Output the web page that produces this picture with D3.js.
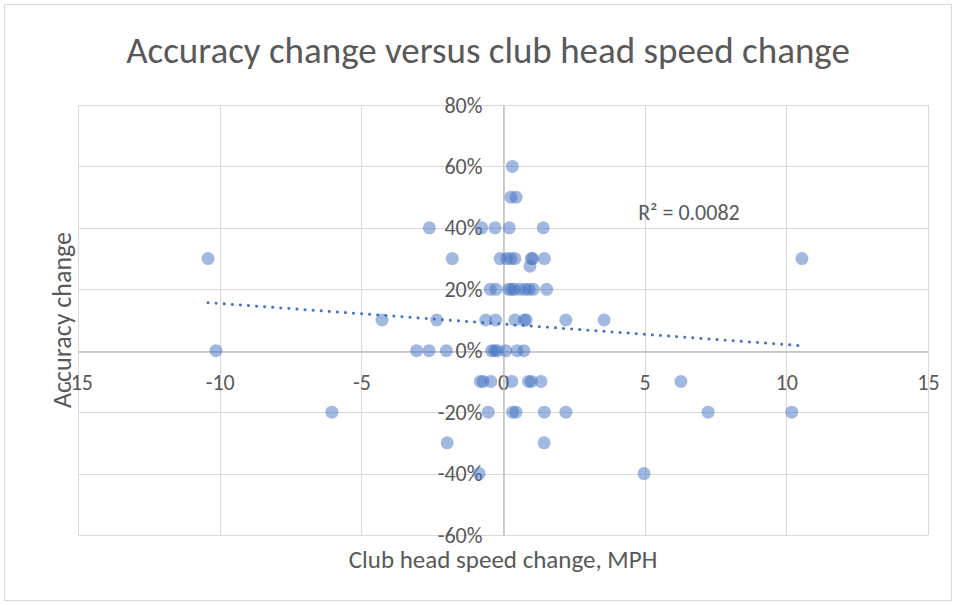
<!DOCTYPE html>
<html>
<head>
<meta charset="utf-8">
<script src="https://cdn.jsdelivr.net/npm/d3@7"></script>
<style>
  html, body { margin: 0; padding: 0; background: #fff; }
  svg { display: block; }
  text { font-family: Carlito, Lato, "Open Sans", sans-serif; fill: #595959; }
</style>
</head>
<body>
<svg id="chart" width="956" height="605"></svg>
<script>
// ---- Data ----
const speedChange = [
  0.33,
  0.28, 0.46,
  -2.6, -0.75, -0.28, 0.22, 1.42,
  -10.41, -1.79, -0.1, 0.13, 0.28, 0.42, 1.0, 1.05, 1.46, 10.55,
  0.95,
  -0.45, -0.25, 0.2, 0.3, 0.4, 0.6, 0.78, 0.92, 1.07, 1.54,
  -4.27, -2.34, -0.61, -0.26, 0.42, 0.75, 0.82, 2.22, 3.57,
  -10.13, -3.05, -2.61, -2.0, -0.4, -0.3, -0.2, 0.1, 0.5, 0.74,
  -0.8, -0.7, -0.43, 0.31, 0.9, 1.0, 1.34, 6.28,
  -6.04, -0.52, 0.34, 0.46, 1.46, 2.22, 7.24, 10.19,
  -1.97, 1.45,
  -0.84, 4.98
];
const accuracyChange = [
  0.6,
  0.5, 0.5,
  0.4, 0.4, 0.4, 0.4, 0.4,
  0.3, 0.3, 0.3, 0.3, 0.3, 0.3, 0.3, 0.3, 0.3, 0.3,
  0.275,
  0.2, 0.2, 0.2, 0.2, 0.2, 0.2, 0.2, 0.2, 0.2, 0.2,
  0.1, 0.1, 0.1, 0.1, 0.1, 0.1, 0.1, 0.1, 0.1,
  0, 0, 0, 0, 0, 0, 0, 0, 0, 0,
  -0.1, -0.1, -0.1, -0.1, -0.1, -0.1, -0.1, -0.1,
  -0.2, -0.2, -0.2, -0.2, -0.2, -0.2, -0.2, -0.2,
  -0.3, -0.3,
  -0.4, -0.4
];
const trendX = [-10.41, 10.55];
const trendY = [0.1565, 0.0163];
const xTicks = [-15, -10, -5, 0, 5, 10, 15];
const yTicks = [-0.6, -0.4, -0.2, 0, 0.2, 0.4, 0.6, 0.8];
const titleText = "Accuracy change versus club head speed change";
const xTitle = "Club head speed change, MPH";
const yTitle = "Accuracy change";
const r2Text = "R² = 0.0082";
const r2Pos = [4.77, 0.452];

// ---- Drawing ----
const FONT = "Carlito, Lato, 'Open Sans', sans-serif";
const locale = d3.formatLocale({ decimal: ".", thousands: ",", grouping: [3], currency: ["$", ""], minus: "-" });
const svg = d3.select("#chart");
const W = 956, H = 605;

svg.append("rect")
  .attr("x", 4.5).attr("y", 4.5).attr("width", W - 9).attr("height", H - 9)
  .attr("fill", "#fff").attr("stroke", "#d9d9d9").attr("stroke-width", 1);

const x = d3.scaleLinear().domain([-15, 15]).range([78, 928]);
const y = d3.scaleLinear().domain([-0.6, 0.8]).range([535, 105]);

// gridlines
const grid = svg.append("g");
grid.selectAll("line.v").data(xTicks).join("line")
  .attr("x1", d => Math.round(x(d)) + 0.5).attr("x2", d => Math.round(x(d)) + 0.5)
  .attr("y1", y(0.8)).attr("y2", y(-0.6))
  .attr("stroke", "#d9d9d9").attr("stroke-width", 1);
grid.selectAll("line.h").data(yTicks).join("line")
  .attr("y1", d => Math.round(y(d)) + 0.5).attr("y2", d => Math.round(y(d)) + 0.5)
  .attr("x1", x(-15)).attr("x2", x(15))
  .attr("stroke", "#d9d9d9").attr("stroke-width", 1);

// zero axes via d3 axes (no ticks), styled gray
const xAxis = d3.axisBottom(x).tickValues(xTicks).tickSize(0).tickPadding(23)
  .tickFormat(locale.format("d"));
const gx = svg.append("g").attr("transform", `translate(0,${Math.round(y(0)) + 0.5})`).call(xAxis);
gx.select(".domain").attr("stroke", "#bfbfbf").attr("stroke-width", 1.5);
gx.selectAll("text").style("font-size", "22px").attr("fill", "#595959")
  .style("font-family", FONT);

const yAxis = d3.axisLeft(y).tickValues(yTicks).tickSize(0).tickPadding(21)
  .tickFormat(locale.format(".0%"));
const gy = svg.append("g").attr("transform", `translate(${Math.round(x(0)) + 0.5},0)`).call(yAxis);
gy.select(".domain").attr("stroke", "#bfbfbf").attr("stroke-width", 1.5);
gy.selectAll("text").style("font-size", "22px").attr("fill", "#595959")
  .style("font-family", FONT);

// points
const pts = speedChange.map((v, i) => ({ x: v, y: accuracyChange[i] }));
svg.append("g").selectAll("circle").data(pts).join("circle")
  .attr("cx", d => x(d.x)).attr("cy", d => y(d.y)).attr("r", 6.5)
  .attr("fill", "#4472C4").attr("fill-opacity", 0.5);

// trendline
svg.append("line")
  .attr("x1", x(trendX[0])).attr("y1", y(trendY[0]))
  .attr("x2", x(trendX[1])).attr("y2", y(trendY[1]))
  .attr("stroke", "#4472C4").attr("stroke-width", 3)
  .attr("stroke-linecap", "round").attr("stroke-dasharray", "0.1 8");

// R² label
svg.append("text").attr("x", x(r2Pos[0])).attr("y", y(r2Pos[1]))
  .attr("dy", "0.35em").style("font-size", "22px").text(r2Text);

// title
svg.append("text").attr("x", 488).attr("y", 50).attr("dy", "0.35em")
  .attr("text-anchor", "middle").style("font-size", "37px").text(titleText);

// axis titles
svg.append("text").attr("x", 503).attr("y", 559).attr("dy", "0.35em")
  .attr("text-anchor", "middle").style("font-size", "25px").text(xTitle);
svg.append("text").attr("transform", "translate(62,320) rotate(-90)")
  .attr("dy", "0.35em").attr("text-anchor", "middle")
  .style("font-size", "26px").text(yTitle);
</script>
</body>
</html>
